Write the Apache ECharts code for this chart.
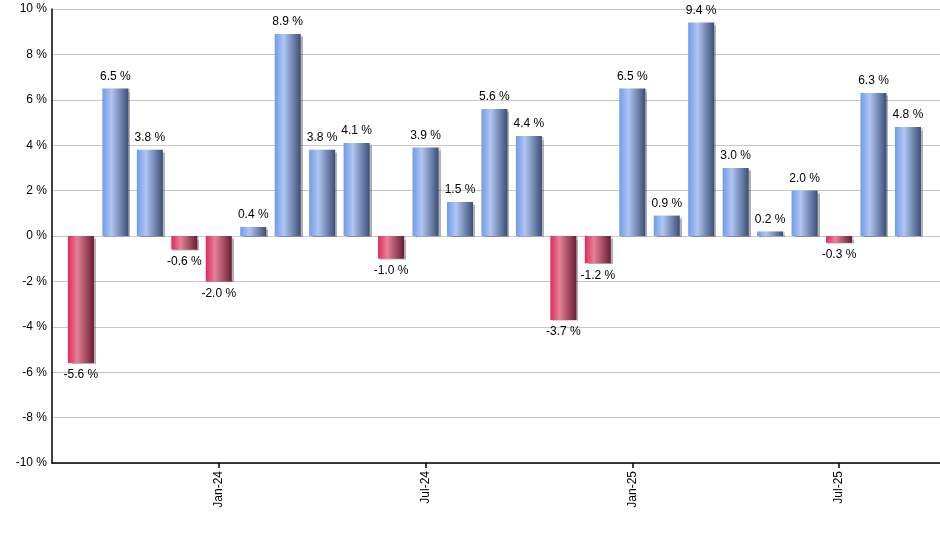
<!DOCTYPE html>
<html>
<head>
<meta charset="utf-8">
<script src="https://cdn.jsdelivr.net/npm/echarts@6/dist/echarts.min.js"></script>
<style>
  html, body { margin: 0; padding: 0; background: #fff; }
  #chart { width: 940px; height: 550px; }
</style>
</head>
<body>
<div id="chart"></div>
<script>
// monthly returns, Sep-23 .. Sep-25
var months = ['Sep-23', 'Oct-23', 'Nov-23', 'Dec-23', 'Jan-24', 'Feb-24', 'Mar-24', 'Apr-24', 'May-24',
	'Jun-24', 'Jul-24', 'Aug-24', 'Sep-24', 'Oct-24', 'Nov-24', 'Dec-24', 'Jan-25', 'Feb-25', 'Mar-25',
	'Apr-25', 'May-25', 'Jun-25', 'Jul-25', 'Aug-25', 'Sep-25'];
var returns = [-5.6, 6.5, 3.8, -0.6, -2.0, 0.4, 8.9, 3.8, 4.1, -1.0, 3.9, 1.5, 5.6, 4.4, -3.7, -1.2,
	6.5, 0.9, 9.4, 3.0, 0.2, 2.0, -0.3, 6.3, 4.8];
var labelIdx = [4, 10, 16, 22]; // Jan-24, Jul-24, Jan-25, Jul-25

var blueFill = new echarts.graphic.LinearGradient(0, 0, 1, 0, [
	{ offset: 0, color: '#6f9be8' },
	{ offset: 0.35, color: '#b0c6f2' },
	{ offset: 1, color: '#3b4e77' }
]);
var redFill = new echarts.graphic.LinearGradient(0, 0, 1, 0, [
	{ offset: 0, color: '#e2285a' },
	{ offset: 0.35, color: '#e58199' },
	{ offset: 1, color: '#6a1d33' }
]);

var barData = [];
for (var i = 0; i < returns.length; i++) {
	var v = returns[i];
	barData.push({
		value: [i, v],
		itemStyle: { color: v < 0 ? redFill : blueFill },
		label: { position: v < 0 ? 'bottom' : 'top' }
	});
}

var chart = echarts.init(document.getElementById('chart'));
chart.setOption({
	animation: false,
	textStyle: { fontFamily: 'Liberation Sans, Arial, sans-serif' },
	grid: { left: 52, right: 0, top: 9, bottom: 87 },
	xAxis: {
		type: 'value',
		min: -0.84,
		max: 24.93,
		splitLine: { show: false },
		axisLine: { onZero: false, lineStyle: { color: '#000', width: 1.5 } },
		axisTick: { show: true, customValues: labelIdx, length: 5, lineStyle: { color: '#000', width: 1.5 } },
		axisLabel: {
			customValues: labelIdx,
			rotate: 90,
			color: '#000',
			fontSize: 12,
			margin: 8,
			formatter: function (val) {
				return months[Math.round(val)];
			}
		}
	},
	yAxis: {
		type: 'value',
		min: -10,
		max: 10,
		interval: 2,
		axisLine: { show: true, onZero: false, lineStyle: { color: '#000', width: 1.5 } },
		axisTick: { show: false },
		splitLine: { lineStyle: { color: '#c8c8c8', width: 1 } },
		axisLabel: {
			color: '#000',
			fontSize: 12,
			margin: 5,
			formatter: function (val) {
				return val + ' %';
			}
		}
	},
	series: [{
		type: 'bar',
		barWidth: 26,
		data: barData,
		itemStyle: {
			shadowColor: 'rgba(0,0,0,0.3)',
			shadowOffsetX: 2,
			shadowOffsetY: 1,
			shadowBlur: 1
		},
		label: {
			show: true,
			color: '#000',
			fontSize: 12,
			distance: 6,
			formatter: function (p) {
				return p.value[1].toFixed(1) + ' %';
			}
		}
	}]
});
</script>
</body>
</html>
